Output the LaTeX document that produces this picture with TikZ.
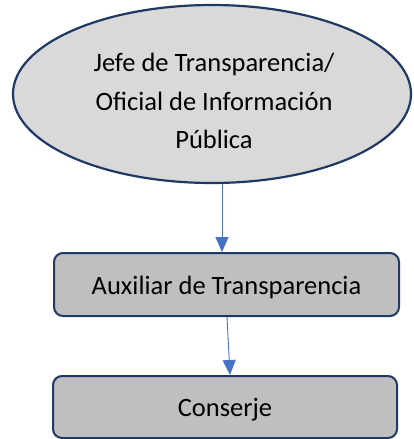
\documentclass[tikz,border=0pt]{standalone}
\usepackage{fontspec}
\setmainfont{Carlito}
\usetikzlibrary{shapes.geometric,arrows.meta}
\definecolor{bordc}{HTML}{1F3864}
\definecolor{ellfill}{HTML}{D9D9D9}
\definecolor{boxfill}{HTML}{BFBFBF}
\definecolor{arrc}{HTML}{4472C4}
\tikzset{
  lbl/.style={font=\fontsize{26.5}{38.5}\selectfont, text=black, align=center},
  ellnode/.style={ellipse, draw=bordc, line width=2.2pt, fill=ellfill, inner sep=0pt, lbl},
  boxnode/.style={rectangle, rounded corners=9pt, draw=bordc, line width=2pt, fill=boxfill, inner sep=0pt, lbl},
  arr/.style={draw=arrc, line width=0.9pt, -{Triangle[width=13pt,length=15pt]}, arrc}
}
\begin{document}
\begin{tikzpicture}[x=1pt,y=1pt]
\useasboundingbox (0,0) rectangle (413,-439);
\node[ellnode, minimum width=398pt, minimum height=178pt] (e) at (212,-94) {};
\node[lbl] (et) at (214,-101) {Jefe de Transparencia/\\Oficial de Información\\Pública};
\node[boxnode, minimum width=345pt, minimum height=63pt] (b1) at (226.5,-284.5)
  {\raisebox{-3pt}[\height][\depth]{Auxiliar de Transparencia}};
\node[boxnode, minimum width=344pt, minimum height=62pt] (b2) at (225,-407)
  {\raisebox{-3pt}[\height][\depth]{Conserje}};
\draw[arr] ([xshift=10pt]e.south) -- ([xshift=-4.5pt]b1.north);
\draw[arr] ([xshift=0.5pt]b1.south) -- ([xshift=5pt]b2.north);
\end{tikzpicture}
\end{document}
